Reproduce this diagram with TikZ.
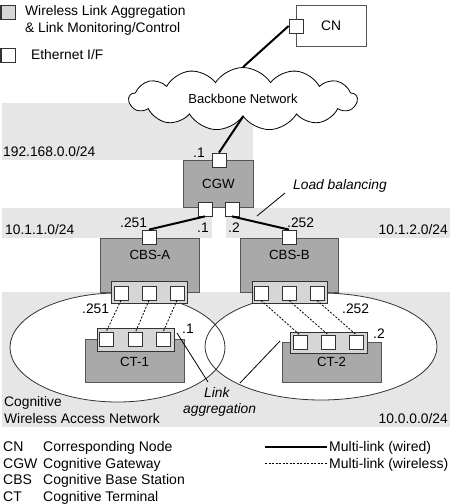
\documentclass[tikz,border=0pt]{standalone}
\usepackage{fontspec}
\setmainfont{Liberation Sans}
\usetikzlibrary{shapes.symbols}
\definecolor{bandg}{HTML}{E6E6E6}
\definecolor{boxg}{HTML}{A9A9A9}
\definecolor{panelg}{HTML}{D6D6D6}
\definecolor{edgeg}{HTML}{555555}
\begin{document}
\begin{tikzpicture}[x=1pt,y=-1pt,
  txt/.style={font=\fontsize{13.8}{16}\selectfont, inner sep=0pt, anchor=base west},
  ltxt/.style={txt, font=\fontsize{14}{16}\selectfont},
  itxt/.style={txt, font=\fontsize{13.8}{16}\selectfont\itshape},
  band/.style={fill=bandg, draw=none},
  gbox/.style={draw=edgeg, fill=boxg, line width=0.8pt, inner sep=0pt, anchor=north west, font=\fontsize{13.3}{15}\selectfont},
  panel/.style={draw=black!80, fill=panelg, line width=0.8pt, inner sep=0pt},
  port/.style={draw=black!80, fill=white, line width=0.8pt, minimum size=14pt, inner sep=0pt},
  wired/.style={line width=2pt, black},
  wless/.style={line width=0.8pt, dash pattern=on 2pt off 1.5pt, black},
  leader/.style={line width=0.8pt, black},
  cell/.style={draw=black!80, fill=white, line width=0.8pt}
]
\useasboundingbox (0,0) rectangle (450,504);

% bands
\fill[band] (2,103) rectangle (253,160);
\fill[band] (2,208) rectangle (212,238);
\fill[band] (226,208) rectangle (450,238);
\fill[band] (2,292) rectangle (450,427);

% cells
\fill[white] (117.5,347.5) ellipse [x radius=107.5, y radius=54.5];
\fill[white] (321,346.5) ellipse [x radius=116, y radius=53.5];
\draw[cell, fill=none] (117.5,347.5) ellipse [x radius=107.5, y radius=54.5];
\draw[cell, fill=none] (321,346.5) ellipse [x radius=116, y radius=53.5];

% top legend
\node[port, fill=panelg, anchor=north west, line width=1.2pt] (lgagg) at (0.5,5) {};
\node[txt] (lgaggt1) at (25,15) {Wireless Link Aggregation};
\node[txt] (lgaggt2) at (25,32) {\& Link Monitoring/Control};
\node[port, anchor=north west, line width=1.2pt] (lgeth) at (0.5,48) {};
\node[txt] (lgetht) at (31,59) {Ethernet I/F};

% CN
\node[draw=edgeg, fill=white, line width=0.8pt, minimum width=70pt, minimum height=41pt, anchor=north west, inner sep=0pt] (cn) at (296,5) {};
\node[txt, anchor=base] (cnt) at (331,30) {CN};
\node[port] (cnp) at (296,26) {};

% cloud
\node[cloud, draw=black, fill=white, line width=0.8pt, cloud puffs=13, cloud puff arc=115, cloud ignores aspect, minimum width=228pt, minimum height=63pt, inner sep=0pt, font=\fontsize{13}{15}\selectfont] (bb) at (243,99) {Backbone Network};

% CGW
\node[gbox, minimum width=70pt, minimum height=47pt] (cgw) at (183,160) {CGW};
\node[port] (cgwt) at (219,160) {};
\node[port] (cgwl) at (205,209) {};
\node[port] (cgwr) at (232,209) {};

% CBS
\node[gbox, minimum width=99pt, minimum height=54pt, text depth=22pt] (cbsa) at (100,238) {CBS-A};
\node[gbox, minimum width=98pt, minimum height=54pt, text depth=22pt] (cbsb) at (240,238) {CBS-B};
\node[port] (cbsat) at (149,237) {};
\node[port] (cbsbt) at (289,237) {};
\node[panel, minimum width=76pt, minimum height=22pt] (cbsap) at (149,292) {};
\node[panel, minimum width=75pt, minimum height=22pt] (cbsbp) at (289.5,292) {};
\node[port] (a1) at (121,293) {};
\node[port] (a2) at (149,293) {};
\node[port] (a3) at (177,293) {};
\node[port] (b1) at (261,293) {};
\node[port] (b2) at (289,293) {};
\node[port] (b3) at (317,293) {};

% CT
\node[gbox, minimum width=99pt, minimum height=43pt] (ct1) at (85,339) {};
\node[gbox, minimum width=99pt, minimum height=40pt] (ct2) at (282,342) {};
\node[txt, anchor=base, font=\fontsize{13.3}{15}\selectfont] (ct1t) at (134.5,366) {CT-1};
\node[txt, anchor=base, font=\fontsize{13.3}{15}\selectfont] (ct2t) at (331.5,366) {CT-2};
\node[panel, minimum width=77pt, minimum height=23pt] (ct1p) at (135.5,339.5) {};
\node[panel, minimum width=77pt, minimum height=21pt] (ct2p) at (328.5,342.5) {};
\node[port] (c1) at (106,339.5) {};
\node[port] (c2) at (135.5,339.5) {};
\node[port] (c3) at (163,339.5) {};
\node[port] (d1) at (300,342.5) {};
\node[port] (d2) at (328.5,342.5) {};
\node[port] (d3) at (356.5,342.5) {};

% wired links
\draw[wired] (cnp.west) -- (bb.north);
\draw[wired] (bb.south) -- (cgwt.north);
\draw[wired] (cgwl.south) -- (cbsat.north);
\draw[wired] (cgwr.south) -- (cbsbt.north);

% wireless links
\draw[wless] (a1.south) -- (c1.north);
\draw[wless] (a2.south) -- (c2.north);
\draw[wless] (a3.south) -- (c3.north);
\draw[wless] (b1.south) -- (d1.north);
\draw[wless] (b2.south) -- (d2.north);
\draw[wless] (b3.south) -- (d3.north);

% labels
\node[txt] (net0) at (3,156) {192.168.0.0/24};
\node[txt] (gw1) at (193,157) {.1};
\node[itxt] (lbt) at (293,189) {Load balancing};
\coordinate (lbs) at (285,193);
\coordinate (lbe) at (257,216);
\draw[leader] (lbs) -- (lbe);
\node[txt] (net1) at (5,234) {10.1.1.0/24};
\node[txt, anchor=base east] (net2) at (448,234) {10.1.2.0/24};
\node[txt] (a251) at (120,227) {.251};
\node[txt] (gwl1) at (197,232) {.1};
\node[txt] (gwr2) at (228,232) {.2};
\node[txt] (b252) at (287,227) {.252};
\node[txt] (a251w) at (82,313) {.251};
\node[txt] (b252w) at (342,313) {.252};
\node[txt] (ct1a) at (182,333) {.1};
\node[txt] (ct2a) at (373,338) {.2};
\node[itxt] (lagg1) at (204,397) {Link};
\node[itxt] (lagg2) at (183,413) {aggregation};
\coordinate (la1s) at (177,333);
\coordinate (la1e) at (208,382);
\coordinate (la2s) at (280,341);
\coordinate (la2e) at (240,383);
\draw[leader] (la1s) -- (la1e);
\draw[leader] (la2s) -- (la2e);
\node[txt] (cwan1) at (4,406) {Cognitive};
\node[txt] (cwan2) at (4,423) {Wireless Access Network};
\node[txt, anchor=base east] (net3) at (448,423) {10.0.0.0/24};

% bottom legend
\node[ltxt] (k1) at (3,451) {CN};
\node[ltxt] (v1) at (43,451) {Corresponding Node};
\node[ltxt] (k2) at (3,468) {CGW};
\node[ltxt] (v2) at (43,468) {Cognitive Gateway};
\node[ltxt] (k3) at (3,484) {CBS};
\node[ltxt] (v3) at (43,484) {Cognitive Base Station};
\node[ltxt] (k4) at (3,501) {CT};
\node[ltxt] (v4) at (43,501) {Cognitive Terminal};
\coordinate (ws) at (265,447);
\coordinate (we) at (327,447);
\coordinate (ls) at (265,463);
\coordinate (le) at (327,463);
\draw[line width=1.3pt] (ws) -- (we);
\draw[wless] (ls) -- (le);
\node[ltxt] (mw) at (329,451) {Multi-link (wired)};
\node[ltxt] (ml) at (329,468) {Multi-link (wireless)};
\end{tikzpicture}
\end{document}
